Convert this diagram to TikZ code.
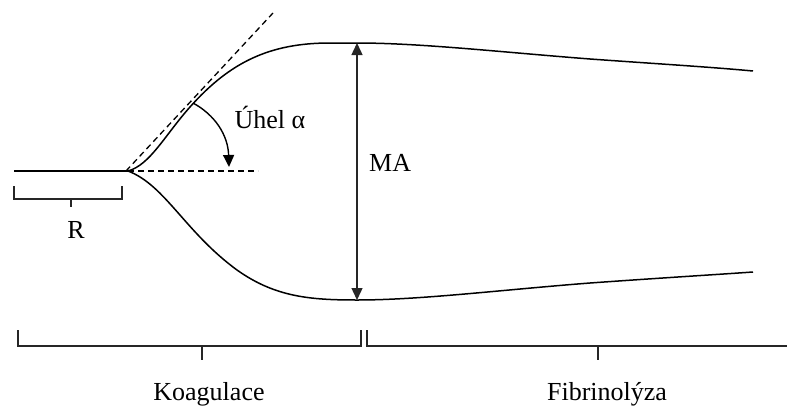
\documentclass[tikz,border=0pt]{standalone}
\usepackage{fontspec}
\setmainfont{Liberation Serif}
\usetikzlibrary{arrows.meta}
\begin{document}
\begin{tikzpicture}[x=1pt,y=-1pt,
  curve/.style={line width=1.5pt,black},
  guide/.style={line width=1.3pt,black,dash pattern=on 6pt off 4pt},
  brack/.style={line width=1.3pt,black!85},
  tip/.style={-{Triangle[length=12pt,width=11pt]}},
  lbl/.style={inner sep=0pt,anchor=base,font=\fontsize{26}{30}\selectfont}]
\useasboundingbox (0,0) rectangle (787,407);
% key points
\coordinate (start) at (14,171);
\coordinate (J) at (128,171);
\coordinate (T1) at (357,43);
\coordinate (B1) at (357,300);
\coordinate (U) at (753,71);
\coordinate (L) at (753,272);
\coordinate (tanEnd) at (273,13);
\coordinate (horEnd) at (258,171);
\coordinate (angS) at (193,103);
\coordinate (angE) at (229,167);
% baseline
\draw[curve] (start) -- (J);
% upper curve
\draw[curve] (J) .. controls (150,165) and (165,135) .. (190,107)
  .. controls (230,62) and (270,43) .. (330,43) -- (T1)
  .. controls (420,43) and (500,52) .. (590,59)
  .. controls (660,64) and (710,67) .. (U);
% lower curve
\draw[curve] (J) .. controls (165,185) and (185,232) .. (237,270)
  .. controls (275,297) and (310,300) .. (B1)
  .. controls (420,300) and (500,290) .. (590,283)
  .. controls (660,278) and (710,275) .. (L);
% guides
\draw[guide] (126,171) -- (tanEnd);
\draw[guide] (J) -- (horEnd);
% angle arrow
\draw[curve,line width=1.4pt,tip] (angS) .. controls (215,115) and (228,135) .. (angE);
\node[lbl] (uhel) at (270,128) {Úhel α};
% MA arrow
\draw[line width=1.4pt,black!85,{Triangle[length=12pt,width=11pt]}-{Triangle[length=12pt,width=11pt]}] (T1) -- (B1);
\node[lbl,anchor=base west] (ma) at (369,171) {MA};
% R bracket
\draw[brack] (14,186) -- (14,199) -- (122,199) -- (122,186);
\draw[brack] (71,199) -- (71,207);
\node[lbl] (r) at (76,238) {R};
% bottom brackets
\draw[brack] (18,330) -- (18,346) -- (361,346) -- (361,330);
\draw[brack] (202,346) -- (202,360);
\draw[brack] (367,330) -- (367,346) -- (787,346);
\draw[brack] (598,346) -- (598,360);
\node[lbl] (koag) at (209,400) {Koagulace};
\node[lbl] (fibr) at (607,400) {Fibrinolýza};
\end{tikzpicture}
\end{document}
